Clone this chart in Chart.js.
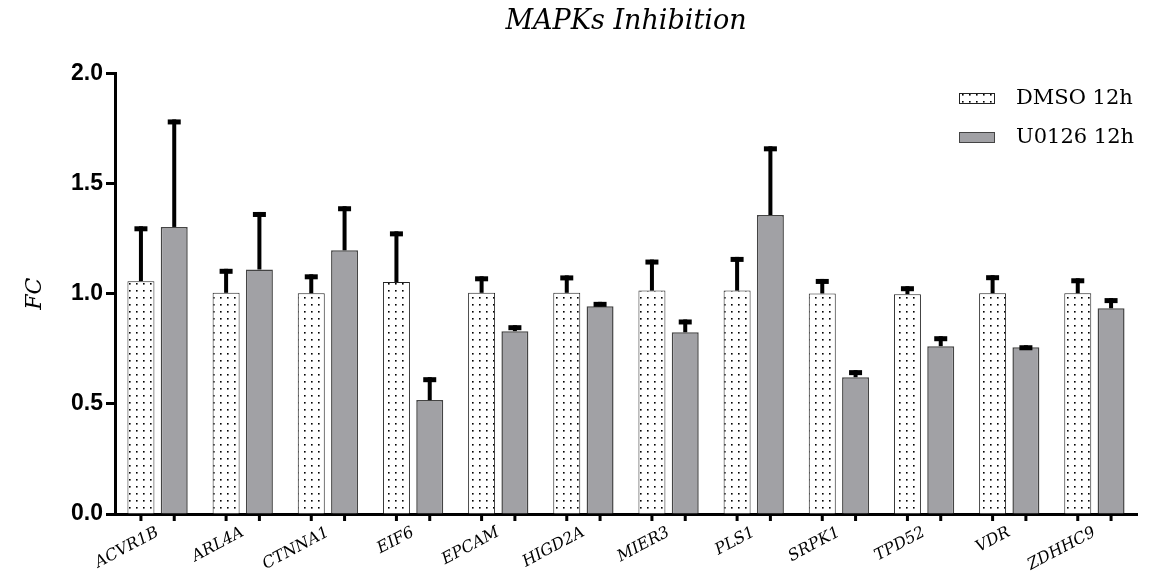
<!DOCTYPE html>
<html>
<head>
<meta charset="utf-8">
<script src="https://cdn.jsdelivr.net/npm/chart.js@4"></script>
<style>
    body { margin: 0; background: #fff; }
    #wrap { width: 1151px; height: 583px; }
</style>
</head>
<body>
<div id="wrap"><canvas id="barChart" width="1151" height="583"></canvas></div>
<script>
// dados
const genes = ['ACVR1B', 'ARL4A', 'CTNNA1', 'EIF6', 'EPCAM', 'HIGD2A', 'MIER3', 'PLS1', 'SRPK1', 'TPD52', 'VDR', 'ZDHHC9'];
const dmso = [1.057, 1.004, 1.002, 1.053, 1.004, 1.004, 1.014, 1.014, 1.001, 0.998, 1.002, 1.002];
const dmsoErr = [0.249, 0.109, 0.086, 0.230, 0.075, 0.079, 0.141, 0.153, 0.066, 0.036, 0.082, 0.068];
const u0126 = [1.303, 1.110, 1.197, 0.517, 0.830, 0.943, 0.825, 1.357, 0.621, 0.762, 0.757, 0.934];
const u0126Err = [0.488, 0.261, 0.200, 0.104, 0.027, 0.020, 0.058, 0.312, 0.032, 0.045, 0.009, 0.046];
const yTicks = [0, 0.5, 1.0, 1.5, 2.0];
const seriesNames = ['DMSO 12h', 'U0126 12h'];

window.onload = function() {
    const ctx = document.getElementById('barChart').getContext('2d');

    // padrão pontilhado para as barras DMSO
    function makeDots() {
        const c = document.createElement('canvas');
        c.width = 7; c.height = 7;
        const p = c.getContext('2d');
        p.fillStyle = '#fff';
        p.fillRect(0, 0, 7, 7);
        p.fillStyle = '#000';
        p.fillRect(3, 3, 1.6, 1.6);
        return ctx.createPattern(c, 'repeat');
    }
    const dots = makeDots();

    const errors = [dmsoErr, u0126Err];

    // barras de erro (só para cima) e marcas do eixo x debaixo de cada barra
    const errorBars = {
        id: 'errorBars',
        afterDatasetsDraw(chart) {
            const c = chart.ctx;
            const y = chart.scales.y;
            const bottom = chart.chartArea.bottom;
            c.save();
            chart.data.datasets.forEach((ds, i) => {
                const meta = chart.getDatasetMeta(i);
                meta.data.forEach((bar, j) => {
                    const top = y.getPixelForValue(ds.data[j] + errors[i][j]);
                    c.fillStyle = '#000';
                    c.fillRect(bar.x - 2, top, 4, bar.y - top);
                    c.fillRect(bar.x - 6.5, top, 13, 5);
                    c.fillRect(bar.x - 1.5, bottom, 3, 7);
                });
            });
            c.restore();
        }
    };

    // legenda dentro da área do gráfico, canto superior direito
    const legendBox = {
        id: 'legendBox',
        afterDraw(chart) {
            const c = chart.ctx;
            c.save();
            c.font = '21px "DejaVu Serif"';
            c.textBaseline = 'middle';
            chart.data.datasets.forEach((ds, i) => {
                const yy = 93 + i * 39;
                c.fillStyle = ds.backgroundColor;
                c.fillRect(959, yy, 36, 11);
                c.strokeStyle = ds.borderColor;
                c.lineWidth = 1;
                c.strokeRect(959.5, yy + 0.5, 35, 10);
                c.fillStyle = '#000';
                c.fillText(ds.label, 1016, yy + 6);
            });
            c.restore();
        }
    };

    new Chart(ctx, {
        type: 'bar',
        data: {
            labels: genes,
            datasets: [
                {
                    label: seriesNames[0],
                    data: dmso,
                    backgroundColor: dots,
                    borderColor: '#222',
                    borderWidth: 1
                },
                {
                    label: seriesNames[1],
                    data: u0126,
                    backgroundColor: '#a1a1a5',
                    borderColor: '#444',
                    borderWidth: 1.5
                }
            ]
        },
        options: {
            responsive: false,
            animation: false,
            devicePixelRatio: 1,
            layout: { padding: { left: 0, right: 14, top: 0, bottom: 0 } },
            datasets: {
                bar: { categoryPercentage: 0.782, barPercentage: 0.81 }
            },
            plugins: {
                legend: { display: false },
                tooltip: { enabled: false },
                title: {
                    display: true,
                    text: 'MAPKs Inhibition',
                    fullSize: false,
                    color: '#000',
                    font: { family: 'DejaVu Serif', style: 'italic', size: 27, weight: 'normal' },
                    padding: { top: 6, bottom: 35 }
                }
            },
            scales: {
                x: {
                    offset: true,
                    grid: { display: false },
                    border: { display: true, color: '#000', width: 3 },
                    ticks: {
                        color: '#000',
                        autoSkip: false,
                        minRotation: 28,
                        maxRotation: 28,
                        padding: 1,
                        font: { family: 'DejaVu Serif', style: 'italic', size: 16 }
                    },
                    afterFit(scale) { scale.height = 69; }
                },
                y: {
                    min: 0,
                    max: 2,
                    afterBuildTicks(scale) { scale.ticks = yTicks.map(v => ({ value: v })); },
                    grid: {
                        display: true,
                        drawOnChartArea: false,
                        drawTicks: true,
                        tickLength: 9,
                        tickWidth: 3,
                        color: '#000'
                    },
                    border: { display: true, color: '#000', width: 3 },
                    ticks: {
                        color: '#000',
                        padding: 3,
                        font: { family: 'Liberation Sans', weight: 'bold', size: 23 },
                        callback: v => v.toFixed(1)
                    },
                    title: {
                        display: true,
                        text: 'FC',
                        color: '#000',
                        font: { family: 'DejaVu Serif', style: 'italic', size: 22 },
                        padding: { top: 22, bottom: 0 }
                    },
                    afterFit(scale) { scale.width = 115; }
                }
            }
        },
        plugins: [errorBars, legendBox]
    });
};
</script>
</body>
</html>
